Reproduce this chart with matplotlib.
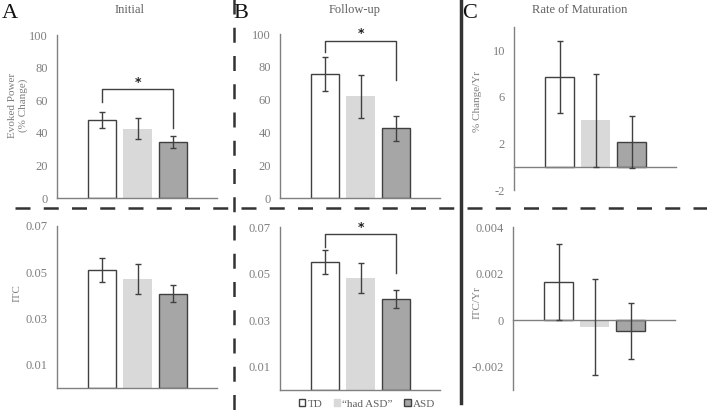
import matplotlib
matplotlib.use("Agg")
import matplotlib.pyplot as plt
from matplotlib.patches import Patch
from matplotlib.lines import Line2D

plt.rcParams['font.family'] = ['Liberation Serif', 'DejaVu Serif']

groups = ["TD", "\u201chad ASD\u201d", "ASD"]
colors = ["#ffffff", "#d9d9d9", "#a6a6a6"]
edges = ["#404040", "none", "#404040"]

# Evoked power (% change)
ep_initial = [48.0, 42.5, 34.5]
ep_initial_err = [5.0, 6.5, 3.7]
ep_follow = [75.5, 62.0, 42.5]
ep_follow_err = [10.5, 13.0, 7.5]
ep_rate = [7.7, 4.0, 2.1]
ep_rate_err = [3.1, 4.0, 2.25]

# ITC
itc_initial = [0.051, 0.047, 0.0407]
itc_initial_err = [0.0053, 0.0065, 0.0036]
itc_follow = [0.055, 0.048, 0.039]
itc_follow_err = [0.005, 0.0065, 0.0038]
itc_rate = [0.00165, -0.0003, -0.00046]
itc_rate_err = [0.00163, 0.00205, 0.0012]

W, H = 707, 411
fig = plt.figure(figsize=(W / 100, H / 100), dpi=100)

GRAY = "#808080"
DARK = "#404040"
LABEL = "#7f7f7f"


def fx(x):
    return x / W


def fy(y):
    return 1 - y / H


def add_ax(x0, y_top, x1, y_bot):
    return fig.add_axes([x0 / W, 1 - y_bot / H, (x1 - x0) / W, (y_bot - y_top) / H])


def style(ax, ylim, ticks, labels, zero=False):
    ax.set_xlim(-1.27, 3.23)
    ax.set_ylim(*ylim)
    ax.set_yticks(ticks)
    ax.set_yticklabels(labels)
    ax.set_xticks([])
    for s in ["top", "right"]:
        ax.spines[s].set_visible(False)
    for s in ["left", "bottom"]:
        ax.spines[s].set_color(GRAY)
        ax.spines[s].set_linewidth(1.0)
    if zero:
        ax.spines["bottom"].set_position(("data", 0))
    ax.tick_params(axis="y", length=0, pad=6.5, labelsize=9, labelcolor=LABEL)
    ax.patch.set_alpha(0)


def bars(ax, vals, errs):
    x = range(len(vals))
    for i in x:
        ax.bar(i, vals[i], width=0.8, color=colors[i], edgecolor=edges[i],
               linewidth=1.0 if edges[i] != "none" else 0, zorder=2)
    ax.errorbar(list(x), vals, yerr=errs, fmt="none", ecolor=DARK,
                elinewidth=1.0, capsize=2.5, capthick=1.0, zorder=3)


def bracket(ax, y, yl, yr, ystar):
    ax.plot([0, 0, 2, 2], [yl, y, y, yr], color=DARK, lw=1.0, zorder=3, clip_on=False)
    ax.text(1, ystar, "*", ha="center", va="center", fontsize=9, fontweight="bold",
            color="#202020", family="DejaVu Sans", clip_on=False)


# Top row
axA = add_ax(57, 35, 217, 198)
bars(axA, ep_initial, ep_initial_err)
style(axA, (0, 100), [0, 20, 40, 60, 80, 100], ["0", "20", "40", "60", "80", "100"])
bracket(axA, 67, 59, 43, 71)

axB = add_ax(280, 34, 440, 198)
bars(axB, ep_follow, ep_follow_err)
style(axB, (0, 100), [0, 20, 40, 60, 80, 100], ["0", "20", "40", "60", "80", "100"])
bracket(axB, 96, 89, 72, 100.5)

axC = add_ax(514, 27, 676, 190)
bars(axC, ep_rate, ep_rate_err)
style(axC, (-2, 12), [-2, 2, 6, 10], ["-2", "2", "6", "10"], zero=True)

# Bottom row
axD = add_ax(57, 226, 217, 388)
bars(axD, itc_initial, itc_initial_err)
style(axD, (0, 0.07), [0.01, 0.03, 0.05, 0.07], ["0.01", "0.03", "0.05", "0.07"])

axE = add_ax(280, 227, 440, 390)
bars(axE, itc_follow, itc_follow_err)
style(axE, (0, 0.07), [0.01, 0.03, 0.05, 0.07], ["0.01", "0.03", "0.05", "0.07"])
bracket(axE, 0.0671, 0.0614, 0.0503, 0.0699)

axF = add_ax(513, 227, 675, 390)
bars(axF, itc_rate, itc_rate_err)
style(axF, (-0.003, 0.004), [-0.002, 0, 0.002, 0.004], ["-0.002", "0", "0.002", "0.004"], zero=True)

# Y-axis labels
for x, y, t in [(18, 105, "Evoked Power\n(% Change)"), (17, 293, "ITC"),
                (477, 101, "% Change/Yr"), (477, 303, "ITC/Yr")]:
    fig.text(fx(x), fy(y), t, rotation=90, ha="center", va="center", fontsize=8,
             color=LABEL, linespacing=1.25, multialignment="center")

# Titles and panel letters
for x, t in [(130, "Initial"), (355, "Follow-up"), (580, "Rate of Maturation")]:
    fig.text(fx(x), fy(10), t, ha="center", va="center", fontsize=9, color="#606060")
for x, t in [(2, "A"), (233, "B"), (462, "C")]:
    fig.text(fx(x), fy(13), t, ha="left", va="center", fontsize=16, color="#111111")

# Divider lines
fig.add_artist(Line2D([fx(14.7), 1], [fy(208), fy(208)], color="#333333", lw=1.8,
                      dashes=(6.0, 5.3), transform=fig.transFigure))
fig.add_artist(Line2D([fx(234), fx(234)], [fy(-6.3), 0], color="#333333", lw=1.8,
                      dashes=(6.0, 5.3), transform=fig.transFigure))
fig.add_artist(Line2D([fx(461), fx(461)], [fy(403), 1], color="#333333", lw=2.5,
                      transform=fig.transFigure))

# Legend
handles = [Patch(facecolor=c, edgecolor=(e if e != "none" else c), linewidth=1.0)
           for c, e in zip(colors, edges)]
fig.legend(handles, groups, loc="center", bbox_to_anchor=(fx(367), fy(404)),
           ncol=3, frameon=False, fontsize=8, handlelength=0.6, handleheight=0.6,
           handletextpad=0.2, columnspacing=1.0, labelcolor="#606060",
           borderpad=0, borderaxespad=0)

fig.savefig("out.png", dpi=100)
